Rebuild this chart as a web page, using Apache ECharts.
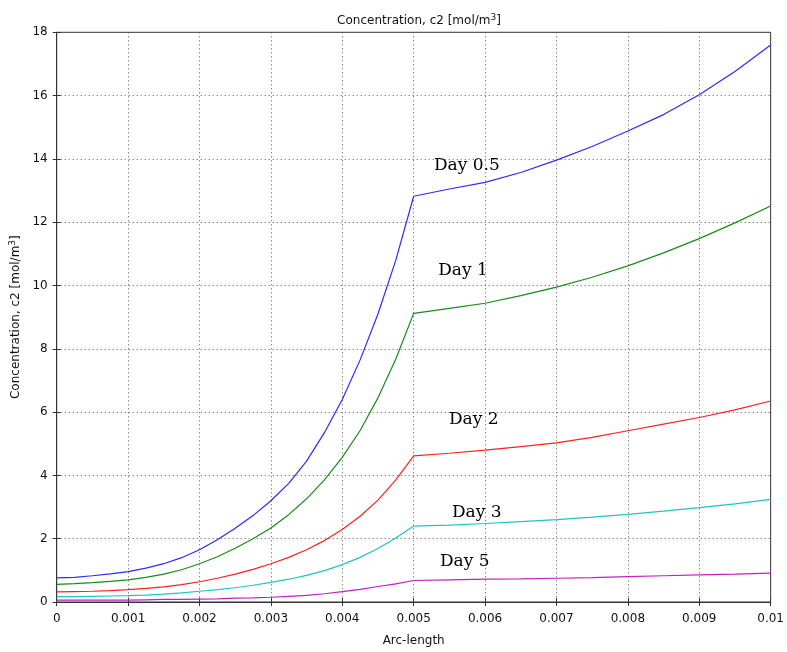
<!DOCTYPE html>
<html>
<head>
<meta charset="utf-8">
<script src="https://cdn.jsdelivr.net/npm/echarts@6/dist/echarts.min.js"></script>
<style>
  html, body { margin: 0; padding: 0; background: #fff; }
  #chart { width: 787px; height: 652px; }
</style>
</head>
<body>
<div id="chart"></div>
<script>
// Arc-length sample positions [m]
const arcLength = [
  0, 0.00025, 0.0005, 0.00075, 0.001, 0.00125, 0.0015, 0.00175, 0.002, 0.00225,
  0.0025, 0.00275, 0.003, 0.00325, 0.0035, 0.00375, 0.004, 0.00425, 0.0045, 0.00475,
  0.005, 0.0055, 0.006, 0.0065, 0.007, 0.0075, 0.008, 0.0085, 0.009, 0.0095, 0.01
];

// Concentration c2 [mol/m^3] per time step
const day05 = [
  0.76, 0.78, 0.83, 0.89, 0.96, 1.07, 1.21, 1.40, 1.65, 1.97,
  2.33, 2.73, 3.2, 3.75, 4.45, 5.35, 6.4, 7.65, 9.1, 10.8,
  12.82, 13.05, 13.26, 13.57, 13.96, 14.39, 14.88, 15.4, 16.03, 16.76, 17.6
];
const day1 = [
  0.56, 0.58, 0.61, 0.65, 0.70, 0.78, 0.88, 1.02, 1.21, 1.43,
  1.70, 2.0, 2.34, 2.76, 3.26, 3.86, 4.57, 5.42, 6.45, 7.68,
  9.12, 9.28, 9.44, 9.68, 9.95, 10.26, 10.62, 11.03, 11.48, 11.98, 12.51
];
const day2 = [
  0.32, 0.33, 0.34, 0.36, 0.39, 0.43, 0.48, 0.55, 0.64, 0.75,
  0.88, 1.03, 1.21, 1.41, 1.65, 1.94, 2.29, 2.71, 3.22, 3.86,
  4.62, 4.70, 4.80, 4.91, 5.03, 5.20, 5.41, 5.62, 5.83, 6.07, 6.35
];
const day3 = [
  0.17, 0.17, 0.18, 0.19, 0.20, 0.22, 0.25, 0.29, 0.34, 0.39,
  0.45, 0.53, 0.62, 0.72, 0.84, 0.99, 1.18, 1.41, 1.69, 2.02,
  2.40, 2.43, 2.48, 2.54, 2.60, 2.68, 2.77, 2.87, 2.98, 3.10, 3.24
];
const day5 = [
  0.06, 0.06, 0.06, 0.06, 0.06, 0.07, 0.08, 0.08, 0.09, 0.10,
  0.12, 0.13, 0.15, 0.18, 0.21, 0.26, 0.33, 0.40, 0.49, 0.57,
  0.68, 0.70, 0.72, 0.73, 0.75, 0.77, 0.80, 0.83, 0.86, 0.88, 0.91
];

const seriesNames = ['Day 0.5', 'Day 1', 'Day 2', 'Day 3', 'Day 5'];
const seriesValues = [day05, day1, day2, day3, day5];
const seriesColors = ['#2b2bff', '#1a8a1a', '#ff2020', '#1fc4c4', '#c41fc4'];

// Annotation anchors (data coordinates) for the curve labels
const labelX = [0.005745, 0.00569, 0.005842, 0.005884, 0.005716];
const labelY = [13.8, 10.47, 5.76, 2.81, 1.27];

const axisFont = { fontFamily: 'DejaVu Sans', fontSize: 12, color: '#111' };
const supRich = {
  a: { fontFamily: 'DejaVu Sans', fontSize: 12, fontWeight: 'normal', color: '#111' },
  s: { fontFamily: 'DejaVu Sans', fontSize: 9, fontWeight: 'normal', color: '#111', verticalAlign: 'top', padding: [0, 0, 6, 0] }
};

const chart = echarts.init(document.getElementById('chart'));

const series = seriesValues.map((vals, i) => ({
  name: seriesNames[i],
  type: 'line',
  data: arcLength.map((x, k) => [x, vals[k]]),
  showSymbol: false,
  symbol: 'none',
  smooth: false,
  lineStyle: { color: seriesColors[i], width: 1.2 },
  itemStyle: { color: seriesColors[i] },
  animation: false,
  markPoint: {
    symbol: 'circle',
    symbolSize: 0,
    silent: true,
    label: {
      show: true,
      position: 'inside',
      formatter: seriesNames[i],
      fontFamily: 'DejaVu Serif',
      fontWeight: 'normal',
      fontSize: 17,
      color: '#000'
    },
    data: [{ coord: [labelX[i], labelY[i]] }]
  }
}));

const gridLine = { show: true, lineStyle: { color: '#555', type: [1, 3], width: 1 } };

chart.setOption({
  animation: false,
  backgroundColor: '#fff',
  title: {
    text: '{a|Concentration, c2 [mol/m}{s|3}{a|]}',
    left: 414,
    textAlign: 'center',
    top: 8,
    textStyle: { fontWeight: 'normal', rich: supRich }
  },
  grid: {
    left: 56.7, right: 14.7, top: 32.3, bottom: 46.4,
    show: true, borderColor: '#333', borderWidth: 1, backgroundColor: '#fff'
  },
  xAxis: [
    {
      type: 'value', min: 0, max: 0.01, interval: 0.001,
      name: 'Arc-length', nameLocation: 'middle', nameGap: 33,
      nameTextStyle: axisFont,
      axisLine: { show: true, onZero: false, lineStyle: { color: '#333' } },
      axisTick: { show: true, inside: true, length: 4, lineStyle: { color: '#333' } },
      axisLabel: Object.assign({ margin: 11, formatter: v => String(+v.toFixed(3)) }, axisFont),
      splitLine: gridLine
    },
    {
      type: 'value', min: 0, max: 0.01, interval: 0.001, position: 'top',
      axisLine: { show: true, lineStyle: { color: '#333' } },
      axisTick: { show: true, inside: true, length: 4, lineStyle: { color: '#333' } },
      axisLabel: { show: false }, splitLine: { show: false }
    }
  ],
  yAxis: [
    {
      type: 'value', min: 0, max: 18, interval: 2,
      name: '{a|Concentration, c2 [mol/m}{s|3}{a|]}', nameLocation: 'middle', nameGap: 31,
      nameRotate: 90,
      nameTextStyle: { rich: supRich },
      axisLine: { show: true, onZero: false, lineStyle: { color: '#333' } },
      axisTick: { show: true, inside: true, length: 4, lineStyle: { color: '#333' } },
      axisLabel: Object.assign({ margin: 9, padding: [5, 0, 0, 0] }, axisFont),
      splitLine: gridLine
    },
    {
      type: 'value', min: 0, max: 18, interval: 2, position: 'right',
      axisLine: { show: true, lineStyle: { color: '#333' } },
      axisTick: { show: true, inside: true, length: 4, lineStyle: { color: '#333' } },
      axisLabel: { show: false }, splitLine: { show: false }
    }
  ],
  series: series
});
</script>
</body>
</html>
